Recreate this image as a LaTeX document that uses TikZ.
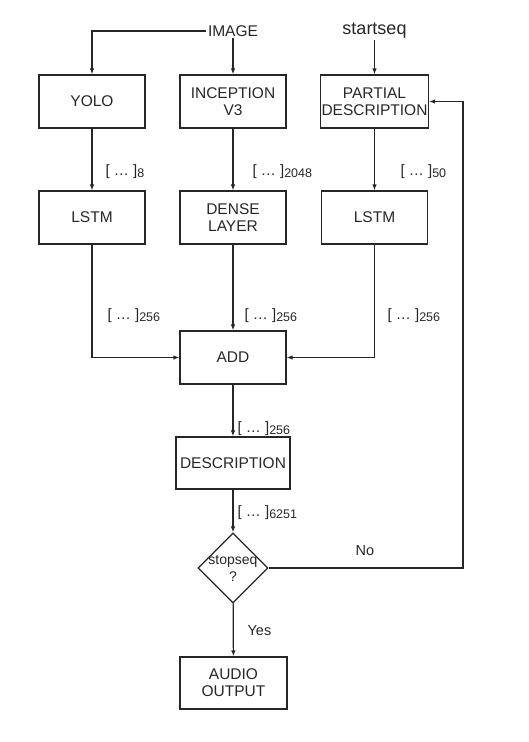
\documentclass[tikz,border=0pt]{standalone}
\usepackage{fontspec}
\setmainfont{Liberation Sans}
\usetikzlibrary{arrows.meta,calc,shapes.geometric}

\newcommand{\vecdim}[1]{[ \ldots\ ]\raisebox{-1.5pt}{\fontsize{12.5}{14}\selectfont #1}}

\begin{document}
\begin{tikzpicture}[x=1pt, y=-1pt, >={Latex[length=6pt,width=4.5pt]},
    line width=1.2pt, color=black!85,
    blk/.style={draw, minimum width=106pt, minimum height=53pt,
      align=center, inner sep=1pt, font=\fontsize{15.5}{17}\selectfont},
    dimlbl/.style={anchor=west, inner sep=0pt, font=\fontsize{15}{17}\selectfont}]
  \useasboundingbox (0,0) rectangle (529,742);

  % inputs
  \node[font=\fontsize{15.5}{17}\selectfont, inner sep=1pt] (img) at (233,31) {IMAGE};
  \node[font=\fontsize{18}{20}\selectfont, inner sep=1pt] (start) at (374.5,31) {startseq};

  % first row
  \node[blk] (yolo) at (92,101.5) {YOLO};
  \node[blk] (incep) at (233,101.5) {INCEPTION\\V3};
  \node[blk] (partial) at (374.5,101.5) {PARTIAL\\DESCRIPTION};

  % second row
  \node[blk] (lstma) at (92,217.5) {LSTM};
  \node[blk] (dense) at (233,217.5) {DENSE\\LAYER};
  \node[blk] (lstmb) at (374.5,217.5) {LSTM};

  \node[blk] (add) at (233,357.5) {ADD};
  \node[blk, minimum width=114pt, minimum height=52pt] (desc) at (233,463) {DESCRIPTION};
  \node[draw, diamond, minimum width=70pt, minimum height=70pt, inner sep=0pt] (stop) at (233,568) {};
  \node[align=center, inner sep=0pt, font=\fontsize{14}{17}\selectfont] (stoptxt) at (stop) {stopseq\\?};
  \node[blk, minimum width=107pt, minimum height=52pt] (audio) at (233.5,683) {AUDIO\\OUTPUT};

  % size labels
  \node[dimlbl] (d8) at (105,172) {\vecdim{8}};
  \node[dimlbl] (d2048) at (252,172) {\vecdim{2048}};
  \node[dimlbl] (d50) at (400,172) {\vecdim{50}};
  \node[dimlbl] (d256a) at (107,316) {\vecdim{256}};
  \node[dimlbl] (d256b) at (244,316) {\vecdim{256}};
  \node[dimlbl] (d256c) at (387,316) {\vecdim{256}};
  \node[dimlbl] (d256d) at (237,429) {\vecdim{256}};
  \node[dimlbl] (d6251) at (237,513) {\vecdim{6251}};
  \node[dimlbl, font=\fontsize{14.5}{16}\selectfont] (yes) at (247,631) {Yes};
  \node[font=\fontsize{14.5}{16}\selectfont, inner sep=0pt] (no) at (365,551) {No};

  \coordinate (fb) at (463,101.5);

  % connectors
  \draw[->] (img.west) -| (yolo.north);
  \draw[->] (img) -- (incep);
  \draw[->] (start) -- (partial);
  \draw[->] (yolo) -- (lstma);
  \draw[->] (incep) -- (dense);
  \draw[->] (partial) -- (lstmb);
  \draw[->] (lstma.south) |- (add.west);
  \draw[->] (dense) -- (add);
  \draw[->] (lstmb.south) |- (add.east);
  \draw[->] (add) -- (desc);
  \draw[->] (desc) -- (stop);
  \draw[->] (stop) -- (audio);
  \draw[->] (stop.east) -- (stop.east -| fb) |- (partial.east);
\end{tikzpicture}
\end{document}
